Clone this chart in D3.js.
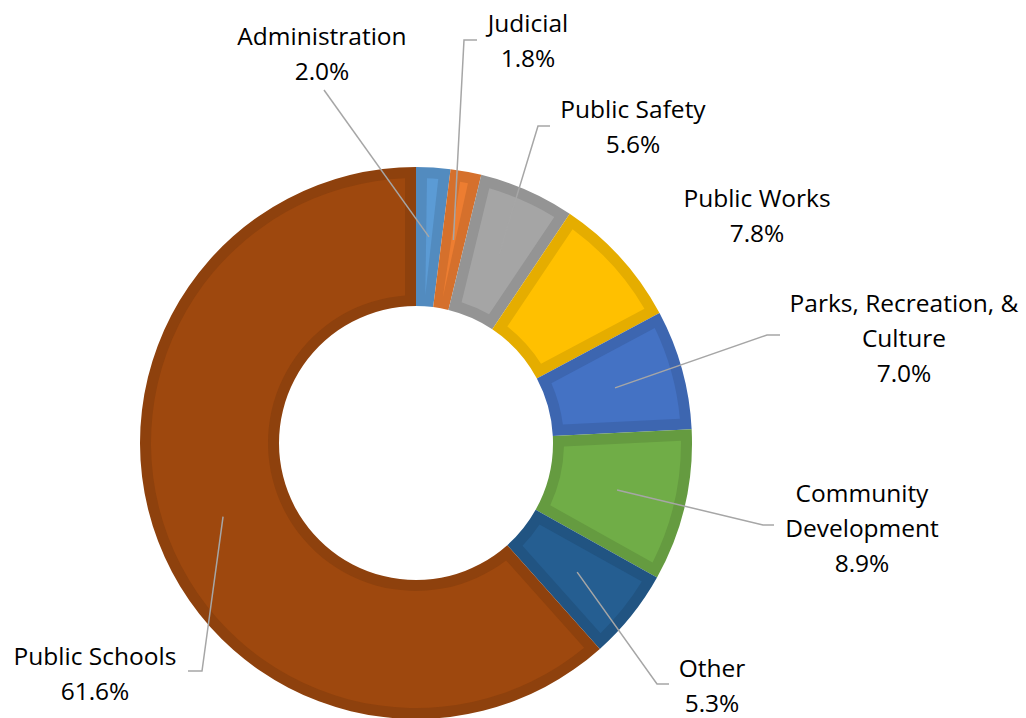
<!DOCTYPE html>
<html>
<head>
<meta charset="utf-8">
<title>Budget by Function</title>
<style>
  body { margin: 0; background: #fff; }
  .lbl { font-family: "Open Sans", "Noto Sans", sans-serif; font-size: 24.5px; fill: #000; }
  .leader { fill: none; stroke: #a6a6a6; stroke-width: 1.5; }
</style>
</head>
<body>
<script src="https://d3js.org/d3.v7.min.js"></script>
<script>
var categories = ["Administration", "Judicial", "Public Safety", "Public Works",
                  "Parks, Recreation, & Culture", "Community Development", "Other", "Public Schools"];
var values = [2.0, 1.8, 5.6, 7.8, 7.0, 8.9, 5.3, 61.6];
var colors = ["#5b9bd5", "#ed7d31", "#a5a5a5", "#ffc000", "#4472c4", "#70ad47", "#255e91", "#9e480e"];
// how each category name wraps in the label
var labelLines = [["Administration"], ["Judicial"], ["Public Safety"], ["Public Works"],
                  ["Parks, Recreation, &", "Culture"], ["Community", "Development"], ["Other"], ["Public Schools"]];

// label placement: centre x, first baseline, leader line end (elbow + hook)
var labelPos = [
  {x: 322, y: 45,  leader: [[324, 90]]},
  {x: 528, y: 32,  leader: [[464, 40], [477, 40]]},
  {x: 633, y: 118, leader: [[538, 126], [550, 126]]},
  {x: 757, y: 207, leader: null},
  {x: 904, y: 312, leader: [[767, 335], [780, 335]]},
  {x: 862, y: 502, leader: [[763, 525], [774, 525]]},
  {x: 712, y: 677, leader: [[657, 684], [669, 684]]},
  {x: 95,  y: 665, leader: [[202, 671], [188, 671]]}
];

var W = 1026, H = 718;
var cx = 416, cy = 443, rOut = 276, rIn = 137, bevel = 11, lineH = 35;

var svg = d3.select("body").append("svg")
    .attr("width", W).attr("height", H);
var g = svg.append("g").attr("transform", "translate(" + cx + "," + cy + ")");

var pie = d3.pie().sort(null).value(function(d) { return d; });
var arcs = pie(values);

var outerArc = d3.arc().innerRadius(rIn).outerRadius(rOut);
var innerArc = d3.arc().innerRadius(rIn + bevel).outerRadius(rOut - bevel)
    .padRadius(rOut).padAngle(2 * bevel / rOut);
var midArc = d3.arc().innerRadius((rIn + rOut) / 2).outerRadius((rIn + rOut) / 2);

// darker rim
g.selectAll(".rim").data(arcs).enter().append("path")
    .attr("class", "rim")
    .attr("d", outerArc)
    .attr("fill", function(d, i) { return d3.color(colors[i]).darker(0.3); });

// lighter face
g.selectAll(".face").data(arcs).enter().append("path")
    .attr("class", "face")
    .attr("d", innerArc)
    .attr("fill", function(d, i) { return colors[i]; });

// leader lines
arcs.forEach(function(d, i) {
  var lp = labelPos[i];
  if (!lp.leader) return;
  var c = midArc.centroid(d);
  var pts = [[cx + c[0], cy + c[1]]].concat(lp.leader);
  svg.append("path").attr("class", "leader")
      .attr("d", d3.line()(pts));
});

// labels
arcs.forEach(function(d, i) {
  var lp = labelPos[i];
  var lines = labelLines[i].concat([d3.format(".1f")(values[i]) + "%"]);
  var t = svg.append("text").attr("class", "lbl")
      .attr("text-anchor", "middle");
  lines.forEach(function(s, k) {
    t.append("tspan").attr("x", lp.x).attr("y", lp.y + k * lineH).text(s);
  });
});
</script>
</body>
</html>
